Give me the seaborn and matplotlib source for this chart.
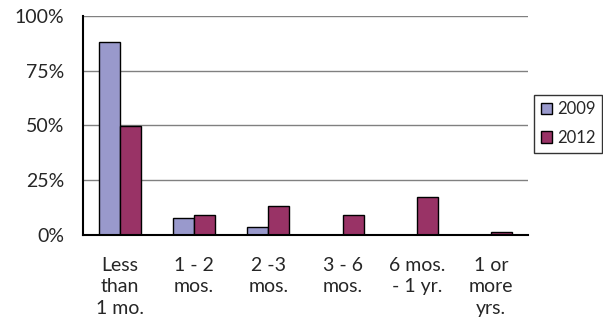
import matplotlib
matplotlib.use("Agg")
import matplotlib.pyplot as plt
import seaborn as sns
import pandas as pd
from matplotlib.ticker import FixedLocator, NullFormatter

categories = ["Less\nthan\n1 mo.", "1 - 2\nmos.", "2 -3\nmos.", "3 - 6\nmos.",
              "6 mos.\n- 1 yr.", "1 or\nmore\nyrs."]
years = ["2009", "2012"]
values_2009 = [88.1, 7.6, 3.8, 0.0, 0.0, 0.0]
values_2012 = [49.8, 9.1, 13.4, 9.1, 17.2, 1.2]
y_ticks = [0, 25, 50, 75, 100]
y_tick_labels = ["0%", "25%", "50%", "75%", "100%"]

df = pd.DataFrame({
    "category": categories * 2,
    "year": [years[0]] * len(categories) + [years[1]] * len(categories),
    "value": values_2009 + values_2012,
})

sns.set_style("white")
plt.rcParams["font.family"] = ["Lato", "DejaVu Sans"]
FS = 14
LEG_FS = 12

fig = plt.figure(figsize=(6.03, 3.22), dpi=100)
ax = fig.add_axes([0.137, 0.270, 0.739, 0.681])

palette = {"2009": "#9999cc", "2012": "#993366"}
sns.barplot(data=df, x="category", y="value", hue="year", palette=palette,
            width=0.57, edgecolor="black", linewidth=1.0, saturation=1,
            ax=ax, zorder=3)

ax.set_ylim(0, 100)
ax.set_xlim(-0.5, len(categories) - 0.5)
ax.set_yticks(y_ticks)
ax.set_yticklabels(y_tick_labels, fontsize=FS)
for y in y_ticks[1:]:
    ax.axhline(y, color="#808080", lw=1.0, zorder=1)

# category labels centred, tick marks on the boundaries
ax.set_xticks(range(len(categories)))
ax.set_xticklabels(categories, fontsize=FS, linespacing=1.3, va="top")
ax.tick_params(axis="x", which="major", length=0, pad=16)
ax.xaxis.set_minor_locator(FixedLocator([i - 0.5 for i in range(len(categories) + 1)]))
ax.xaxis.set_minor_formatter(NullFormatter())
ax.tick_params(axis="x", which="minor", length=6, width=1.5, direction="out", color="black")
ax.tick_params(axis="y", length=10, width=1.5, direction="inout", pad=8, color="black")

ax.set_xlabel("")
ax.set_ylabel("")
for side in ["top", "right"]:
    ax.spines[side].set_visible(False)
for side in ["left", "bottom"]:
    ax.spines[side].set_color("black")
    ax.spines[side].set_linewidth(1.5)
    ax.spines[side].set_zorder(4)

handles, labels = ax.get_legend_handles_labels()
ax.legend(handles, labels, loc="center left", bbox_to_anchor=(1.0135, 0.508),
          fontsize=LEG_FS, frameon=True, fancybox=False, edgecolor="black",
          handlelength=0.65, handleheight=0.65, handletextpad=0.3,
          borderpad=0.4, labelspacing=0.75, borderaxespad=0)
ax.get_legend().get_frame().set_linewidth(1.0)

fig.savefig("out.png", dpi=100)
